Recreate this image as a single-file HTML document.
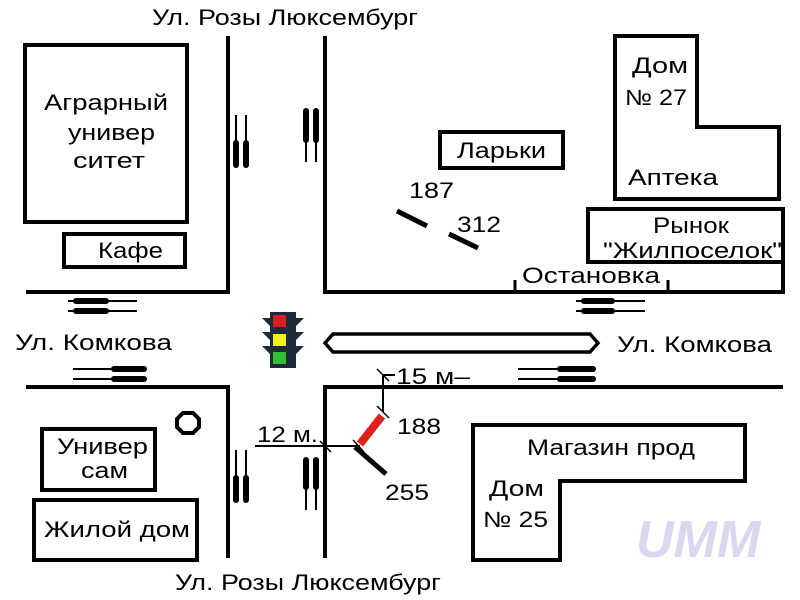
<!DOCTYPE html>
<html><head><meta charset="utf-8"><style>
html,body{margin:0;padding:0;background:#fff;}
svg{display:block}
text{font-family:"Liberation Sans","DejaVu Sans",sans-serif;fill:#000}
</style></head><body>
<svg width="800" height="600" viewBox="0 0 800 600" xmlns="http://www.w3.org/2000/svg">
<g stroke="#000" stroke-width="4" fill="none">
<polyline points="228,36 228,292 26,292"/>
<polyline points="325,36 325,292 783,292 783,207"/>
<polyline points="26,387 228,387 228,558"/>
<polyline points="325,558 325,387 783,387"/>
<line x1="515" y1="280" x2="515" y2="292" stroke-width="3"/>
<line x1="668" y1="280" x2="668" y2="292" stroke-width="3"/>
<rect x="25" y="45" width="162" height="177"/>
<rect x="64" y="234" width="121" height="33"/>
<rect x="440" y="132" width="123" height="36"/>
<polygon points="615,36 697,36 697,127 779,127 779,199 615,199"/>
<rect x="588" y="209" width="195" height="53"/>
<polygon points="473,425 745,425 745,481 560,481 560,560 473,560"/>
<rect x="42" y="429" width="113" height="61"/>
<rect x="34" y="500" width="163" height="60"/>
<polygon points="183,413 193,413 199,419 199,427 193,433 183,433 177,427 177,419"/>
<path d="M333,334 L590,334 L598,343 L590,352 L333,352 L325,343 Z" stroke-width="3.5"/>
</g>
<g stroke="#000">
<g stroke-width="2"><line x1="236" y1="115" x2="236" y2="145"/><line x1="246" y1="115" x2="246" y2="145"/>
<line x1="306" y1="138" x2="306" y2="162"/><line x1="316" y1="138" x2="316" y2="162"/>
<line x1="236" y1="450" x2="236" y2="480"/><line x1="246" y1="450" x2="246" y2="480"/>
<line x1="306" y1="485" x2="306" y2="510"/><line x1="316" y1="485" x2="316" y2="510"/>
<line x1="68" y1="301" x2="137" y2="301"/><line x1="68" y1="311" x2="137" y2="311"/>
<line x1="73" y1="369" x2="146" y2="369"/><line x1="73" y1="379" x2="146" y2="379"/>
<line x1="576" y1="301" x2="645" y2="301"/><line x1="576" y1="311" x2="645" y2="311"/>
<line x1="518" y1="369" x2="595" y2="369"/><line x1="518" y1="379" x2="595" y2="379"/></g>
<g stroke-width="6" stroke-linecap="round"><line x1="236" y1="143" x2="236" y2="165"/><line x1="246" y1="143" x2="246" y2="165"/>
<line x1="306" y1="111" x2="306" y2="140"/><line x1="316" y1="111" x2="316" y2="140"/>
<line x1="236" y1="478" x2="236" y2="500"/><line x1="246" y1="478" x2="246" y2="500"/>
<line x1="306" y1="460" x2="306" y2="487"/><line x1="316" y1="460" x2="316" y2="487"/>
<line x1="76" y1="301" x2="106" y2="301"/><line x1="76" y1="311" x2="106" y2="311"/>
<line x1="114" y1="369" x2="144" y2="369"/><line x1="114" y1="379" x2="144" y2="379"/>
<line x1="584" y1="301" x2="612" y2="301"/><line x1="584" y1="311" x2="612" y2="311"/>
<line x1="560" y1="369" x2="593" y2="369"/><line x1="560" y1="379" x2="593" y2="379"/></g>
</g>
<g>
<path d="M262,318 L270,318 L270,312 L296,312 L296,318 L304,318 L296,326 L296,332 L304,332 L296,340 L296,346 L304,346 L296,354 L296,368 L270,368 L270,354 L262,346 L270,346 L270,340 L262,332 L270,332 L270,326 Z" fill="#1c2a3a"/>
<rect x="273" y="315" width="13" height="12" fill="#d42020"/>
<rect x="273" y="334" width="13" height="12" fill="#f0f020"/>
<rect x="273" y="352" width="13" height="12" fill="#30c030"/>
</g>
<g stroke="#000" stroke-width="2">
<line x1="255" y1="446" x2="360" y2="446"/>
<line x1="383" y1="412" x2="383" y2="375"/>
<line x1="383" y1="375" x2="395" y2="375"/>
<line x1="320" y1="441" x2="331" y2="452" stroke-width="1.5"/>
<line x1="353" y1="440" x2="364" y2="452" stroke-width="1.5"/>
<line x1="377" y1="406" x2="389" y2="418" stroke-width="1.5"/>
<line x1="377" y1="369" x2="389" y2="381" stroke-width="1.5"/>
<line x1="355" y1="447" x2="386" y2="474" stroke-width="5"/>
<line x1="397" y1="211" x2="427" y2="226" stroke-width="5"/>
<line x1="449" y1="234" x2="478" y2="248" stroke-width="5"/>
</g>
<line x1="360" y1="444" x2="382" y2="416" stroke="#e02020" stroke-width="8"/>
<g font-size="22" lengthAdjust="spacingAndGlyphs">
<text x="152" y="25" textLength="266" lengthAdjust="spacingAndGlyphs">Ул. Розы Люксембург</text>
<text x="175" y="590" textLength="266" lengthAdjust="spacingAndGlyphs">Ул. Розы Люксембург</text>
<text x="15" y="350" textLength="157" lengthAdjust="spacingAndGlyphs">Ул. Комкова</text>
<text x="617" y="352" textLength="155" lengthAdjust="spacingAndGlyphs">Ул. Комкова</text>
<text x="44" y="110" textLength="124" lengthAdjust="spacingAndGlyphs">Аграрный</text>
<text x="68" y="140" textLength="87" lengthAdjust="spacingAndGlyphs">универ</text>
<text x="73" y="168" textLength="72" lengthAdjust="spacingAndGlyphs">ситет</text>
<text x="98" y="258" textLength="65" lengthAdjust="spacingAndGlyphs">Кафе</text>
<text x="457" y="158" textLength="89" lengthAdjust="spacingAndGlyphs">Ларьки</text>
<text x="632" y="73" textLength="56" lengthAdjust="spacingAndGlyphs">Дом</text>
<text x="625" y="105" textLength="62" lengthAdjust="spacingAndGlyphs">№ 27</text>
<text x="628" y="185" textLength="90" lengthAdjust="spacingAndGlyphs">Аптека</text>
<text x="653" y="233" textLength="76" lengthAdjust="spacingAndGlyphs">Рынок</text>
<text x="603" y="258" textLength="179" lengthAdjust="spacingAndGlyphs">"Жилпоселок"</text>
<text x="522" y="283" textLength="138" lengthAdjust="spacingAndGlyphs">Остановка</text>
<text x="409" y="198" textLength="45" lengthAdjust="spacingAndGlyphs">187</text>
<text x="457" y="232" textLength="44" lengthAdjust="spacingAndGlyphs">312</text>
<text x="396" y="384" textLength="74" lengthAdjust="spacingAndGlyphs">15 м–</text>
<text x="257" y="442" textLength="61" lengthAdjust="spacingAndGlyphs">12 м.</text>
<text x="397" y="434" textLength="44" lengthAdjust="spacingAndGlyphs">188</text>
<text x="385" y="500" textLength="44" lengthAdjust="spacingAndGlyphs">255</text>
<text x="527" y="455" textLength="168" lengthAdjust="spacingAndGlyphs">Магазин прод</text>
<text x="489" y="496" textLength="55" lengthAdjust="spacingAndGlyphs">Дом</text>
<text x="483" y="527" textLength="65" lengthAdjust="spacingAndGlyphs">№ 25</text>
<text x="57" y="454" textLength="91" lengthAdjust="spacingAndGlyphs">Универ</text>
<text x="81" y="478" textLength="47" lengthAdjust="spacingAndGlyphs">сам</text>
<text x="44" y="537" textLength="146" lengthAdjust="spacingAndGlyphs">Жилой дом</text>
</g>
<text x="636" y="557" font-size="52" font-weight="bold" font-style="italic" style="fill:#d8d8f0">UMM</text>
</svg>
</body></html>
